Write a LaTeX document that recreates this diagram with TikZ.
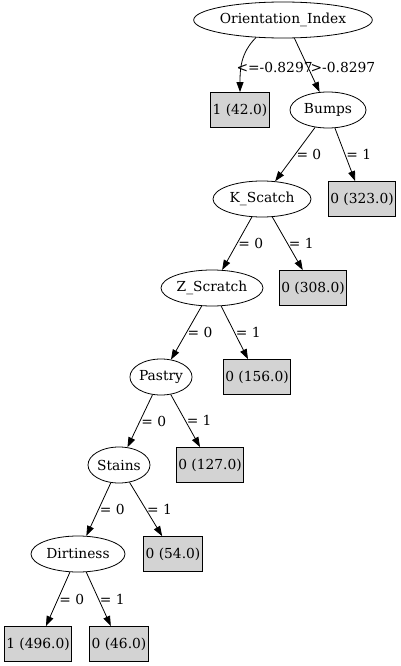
\documentclass[tikz,border=0pt]{standalone}
\usepackage{fontspec}
\setmainfont{DejaVu Serif}
\usetikzlibrary{arrows.meta,shapes.geometric}
\definecolor{leafgray}{RGB}{211,211,211}

\begin{document}
\begin{tikzpicture}[x=1pt,y=-1pt,>={Triangle[length=10pt,width=7pt]},
  line width=0.8pt,font=\fontsize{13.8}{15}\selectfont,
  split/.style={ellipse,draw,inner sep=0pt,minimum height=36pt},
  leaf/.style={rectangle,draw,fill=leafgray,inner xsep=2pt,minimum height=35pt},
  lbl/.style={anchor=west,inner sep=1pt}]
\useasboundingbox (0,0) rectangle (400,666);

\node[split,minimum width=160pt] (oi)   at (283,20)  {Orientation\_Index};
\node[leaf]                      (l42)  at (240,110) {1 (42.0)};
\node[split,minimum width=76pt]  (bu)   at (328,110) {Bumps};
\node[split,minimum width=98pt]  (ks)   at (262,199) {K\_Scatch};
\node[leaf]                      (l323) at (362,199) {0 (323.0)};
\node[split,minimum width=102pt] (zs)   at (212,288) {Z\_Scratch};
\node[leaf]                      (l308) at (313,288) {0 (308.0)};
\node[split,minimum width=62pt]  (pa)   at (161,377) {Pastry};
\node[leaf]                      (l156) at (257,377) {0 (156.0)};
\node[split,minimum width=62pt]  (st)   at (119,465) {Stains};
\node[leaf]                      (l127) at (210,465) {0 (127.0)};
\node[split,minimum width=94pt]  (di)   at (78,554)  {Dirtiness};
\node[leaf]                      (l54)  at (173,554) {0 (54.0)};
\node[leaf]                      (l496) at (38,644)  {1 (496.0)};
\node[leaf]                      (l46)  at (119,644) {0 (46.0)};

\path[->] (oi.213) edge[out=-135,in=90] node[lbl,pos=0.6,xshift=-6pt]{<=-0.8297} (l42)
          (oi.302) edge node[lbl,pos=0.55,xshift=1pt]{>-0.8297} (bu)
          (bu)  edge node[lbl]{= 0} (ks)
                edge node[lbl]{= 1} (l323)
          (ks)  edge node[lbl]{= 0} (zs)
                edge node[lbl]{= 1} (l308)
          (zs)  edge node[lbl]{= 0} (pa)
                edge node[lbl]{= 1} (l156)
          (pa)  edge node[lbl]{= 0} (st)
                edge node[lbl]{= 1} (l127)
          (st)  edge node[lbl]{= 0} (di)
                edge node[lbl]{= 1} (l54)
          (di)  edge node[lbl]{= 0} (l496)
                edge node[lbl]{= 1} (l46);

\end{tikzpicture}
\end{document}
